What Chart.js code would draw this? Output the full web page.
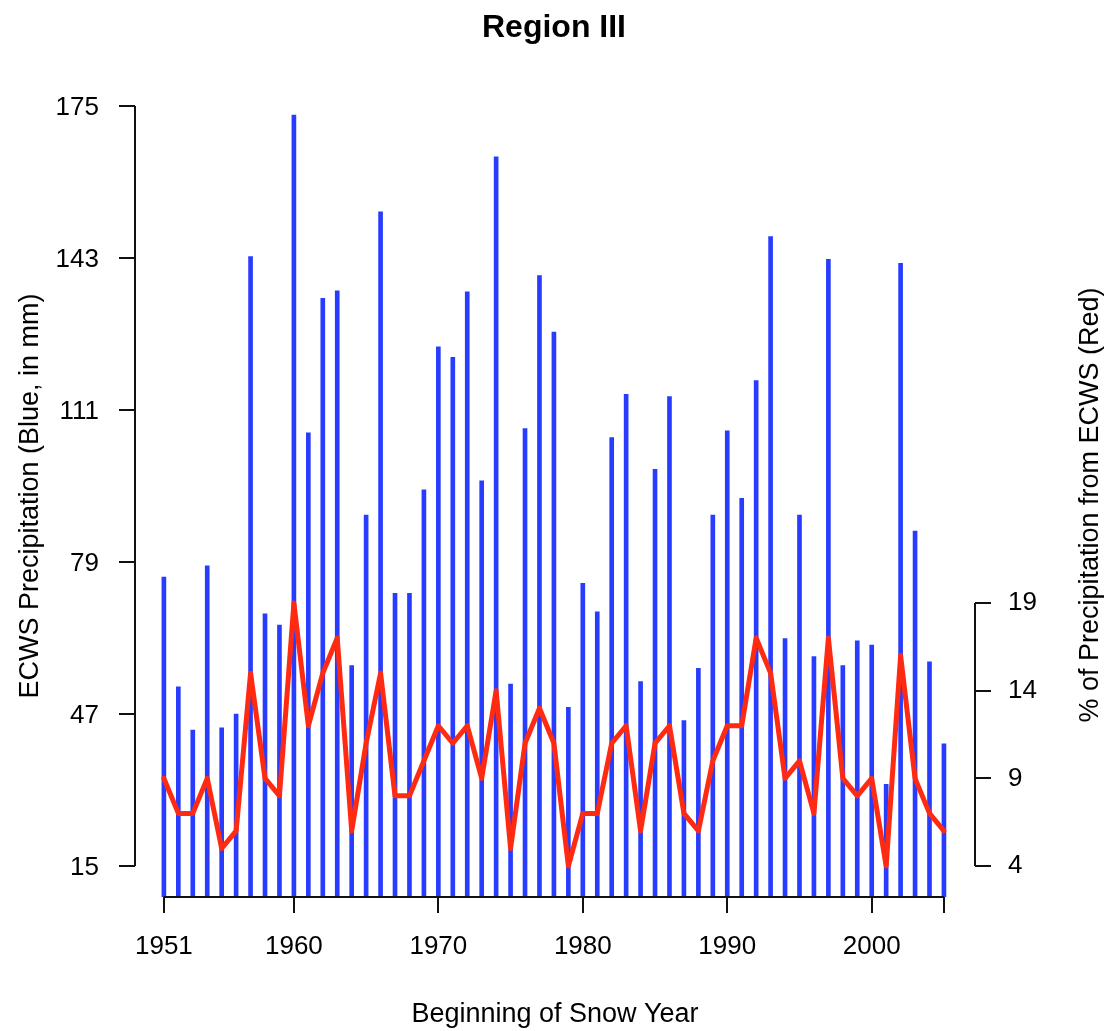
<!DOCTYPE html>
<html lang="en">
<head>
<meta charset="UTF-8">
<title>Region III</title>
<style>
  body { margin: 0; background: #fff; }
  canvas { display: block; }
</style>
</head>
<body>
<canvas id="chart" width="1109" height="1031"></canvas>
<script src="https://cdn.jsdelivr.net/npm/chart.js"></script>
<script>
// snow years (beginning year)
const years = [
  1951, 1952, 1953, 1954, 1955, 1956, 1957, 1958, 1959, 1960,
  1961, 1962, 1963, 1964, 1965, 1966, 1967, 1968, 1969, 1970,
  1971, 1972, 1973, 1974, 1975, 1976, 1977, 1978, 1979, 1980,
  1981, 1982, 1983, 1984, 1985, 1986, 1987, 1988, 1989, 1990,
  1991, 1992, 1993, 1994, 1995, 1996, 1997, 1998, 1999, 2000,
  2001, 2002, 2003, 2004, 2005
];

// ECWS precipitation, mm
const ecwsPrecip = [
  75.8, 52.7, 43.6, 78.2, 44.1, 47.0, 143.3, 68.1, 65.7, 173.1,
  106.2, 134.5, 136.1, 57.2, 88.9, 152.7, 72.4, 72.4, 94.2, 124.3,
  122.1, 135.9, 96.1, 164.3, 53.3, 107.1, 139.3, 127.4, 48.4, 74.5,
  68.5, 105.2, 114.3, 53.8, 98.5, 113.8, 45.6, 56.6, 88.9, 106.6,
  92.4, 117.2, 147.5, 62.9, 88.9, 59.1, 142.7, 57.2, 62.4, 61.5,
  32.2, 141.9, 85.5, 58.0, 40.7
];

// share of total precipitation from ECWS, %
const ecwsPercent = [
  9, 7, 7, 9, 5, 6, 15, 9, 8, 19,
  12, 15, 17, 6, 11, 15, 8, 8, 10, 12,
  11, 12, 9, 14, 5, 11, 13, 11, 4, 7,
  7, 11, 12, 6, 11, 12, 7, 6, 10, 12,
  12, 17, 15, 9, 10, 7, 17, 9, 8, 9,
  4, 16, 9, 7, 6
];

const precipTicks = [15, 47, 79, 111, 143, 175];
const percentTicks = [4, 9, 14, 19];
const yearTicks = [1951, 1960, 1970, 1980, 1990, 2000, 2005];
const yearTickLabels = ['1951', '1960', '1970', '1980', '1990', '2000', ''];

const FONT = "'Liberation Sans', Arial, Helvetica, sans-serif";
const INK = '#111';

const tickGrid = {
  display: true,
  drawOnChartArea: false,
  drawTicks: true,
  tickLength: 16,
  color: INK,
  lineWidth: 2
};

// axis lines only span first..last tick, plus titles
const axisDecor = {
  id: 'axisDecor',
  afterDraw(chart) {
    const { ctx, scales } = chart;
    const { x, y, y2 } = scales;
    ctx.save();
    ctx.strokeStyle = INK;
    ctx.lineWidth = 2;
    ctx.beginPath();
    ctx.moveTo(y.right, y.getPixelForValue(precipTicks[0]));
    ctx.lineTo(y.right, y.getPixelForValue(precipTicks[precipTicks.length - 1]));
    ctx.moveTo(x.getPixelForValue(yearTicks[0]), x.top);
    ctx.lineTo(x.getPixelForValue(yearTicks[yearTicks.length - 1]), x.top);
    ctx.moveTo(y2.left, y2.getPixelForValue(percentTicks[0]));
    ctx.lineTo(y2.left, y2.getPixelForValue(percentTicks[percentTicks.length - 1]));
    ctx.stroke();

    ctx.fillStyle = '#000';
    ctx.textAlign = 'center';
    ctx.textBaseline = 'alphabetic';
    ctx.font = 'bold 32px ' + FONT;
    ctx.fillText('Region III', 554, 37);

    ctx.font = '27px ' + FONT;
    ctx.fillText('Beginning of Snow Year', (x.left + x.right) / 2, 1022);

    ctx.save();
    ctx.translate(38, 496);
    ctx.rotate(-Math.PI / 2);
    ctx.fillText('ECWS Precipitation (Blue, in mm)', 0, 0);
    ctx.restore();

    ctx.save();
    ctx.translate(1098, 505);
    ctx.rotate(-Math.PI / 2);
    ctx.fillText('% of Precipitation from ECWS (Red)', 0, 0);
    ctx.restore();
    ctx.restore();
  }
};

new Chart(document.getElementById('chart'), {
  type: 'bar',
  data: {
    datasets: [
      {
        type: 'bar',
        label: 'ECWS Precipitation',
        data: years.map((yr, i) => ({ x: yr, y: ecwsPrecip[i] })),
        backgroundColor: 'rgb(40, 60, 255)',
        barThickness: 4,
        yAxisID: 'y',
        order: 2
      },
      {
        type: 'line',
        label: '% from ECWS',
        data: years.map((yr, i) => ({ x: yr, y: ecwsPercent[i] })),
        borderColor: 'rgb(255, 42, 18)',
        borderWidth: 5,
        pointRadius: 0,
        tension: 0,
        borderJoinStyle: 'round',
        borderCapStyle: 'round',
        yAxisID: 'y2',
        order: 1
      }
    ]
  },
  options: {
    responsive: false,
    animation: false,
    layout: { padding: { top: 85, left: 0, right: 0, bottom: 0 } },
    plugins: {
      legend: { display: false },
      tooltip: { enabled: false },
      title: { display: false }
    },
    scales: {
      x: {
        type: 'linear',
        min: 1949,
        max: 2007.15,
        offset: false,
        grid: Object.assign({}, tickGrid, { offset: false }),
        border: { display: false },
        afterBuildTicks: s => { s.ticks = yearTicks.map(v => ({ value: v })); },
        afterFit: s => { s.height = 134; },
        ticks: {
          autoSkip: false,
          maxRotation: 0,
          padding: 18,
          color: '#000',
          font: { family: FONT, size: 26 },
          callback: (v, i) => yearTickLabels[i]
        }
      },
      y: {
        type: 'linear',
        position: 'left',
        min: 8.47,
        max: 179.42,
        grid: tickGrid,
        border: { display: false },
        afterBuildTicks: s => { s.ticks = precipTicks.map(v => ({ value: v })); },
        afterFit: s => { s.width = 135; },
        ticks: {
          padding: 20,
          labelOffset: 2,
          color: '#000',
          font: { family: FONT, size: 26 }
        }
      },
      y2: {
        type: 'linear',
        position: 'right',
        min: 2.232,
        max: 48.545,
        grid: tickGrid,
        border: { display: false },
        afterBuildTicks: s => { s.ticks = percentTicks.map(v => ({ value: v })); },
        afterFit: s => { s.width = 134; },
        ticks: {
          padding: 17,
          color: '#000',
          font: { family: FONT, size: 26 }
        }
      }
    }
  },
  plugins: [axisDecor]
});
</script>
</body>
</html>
